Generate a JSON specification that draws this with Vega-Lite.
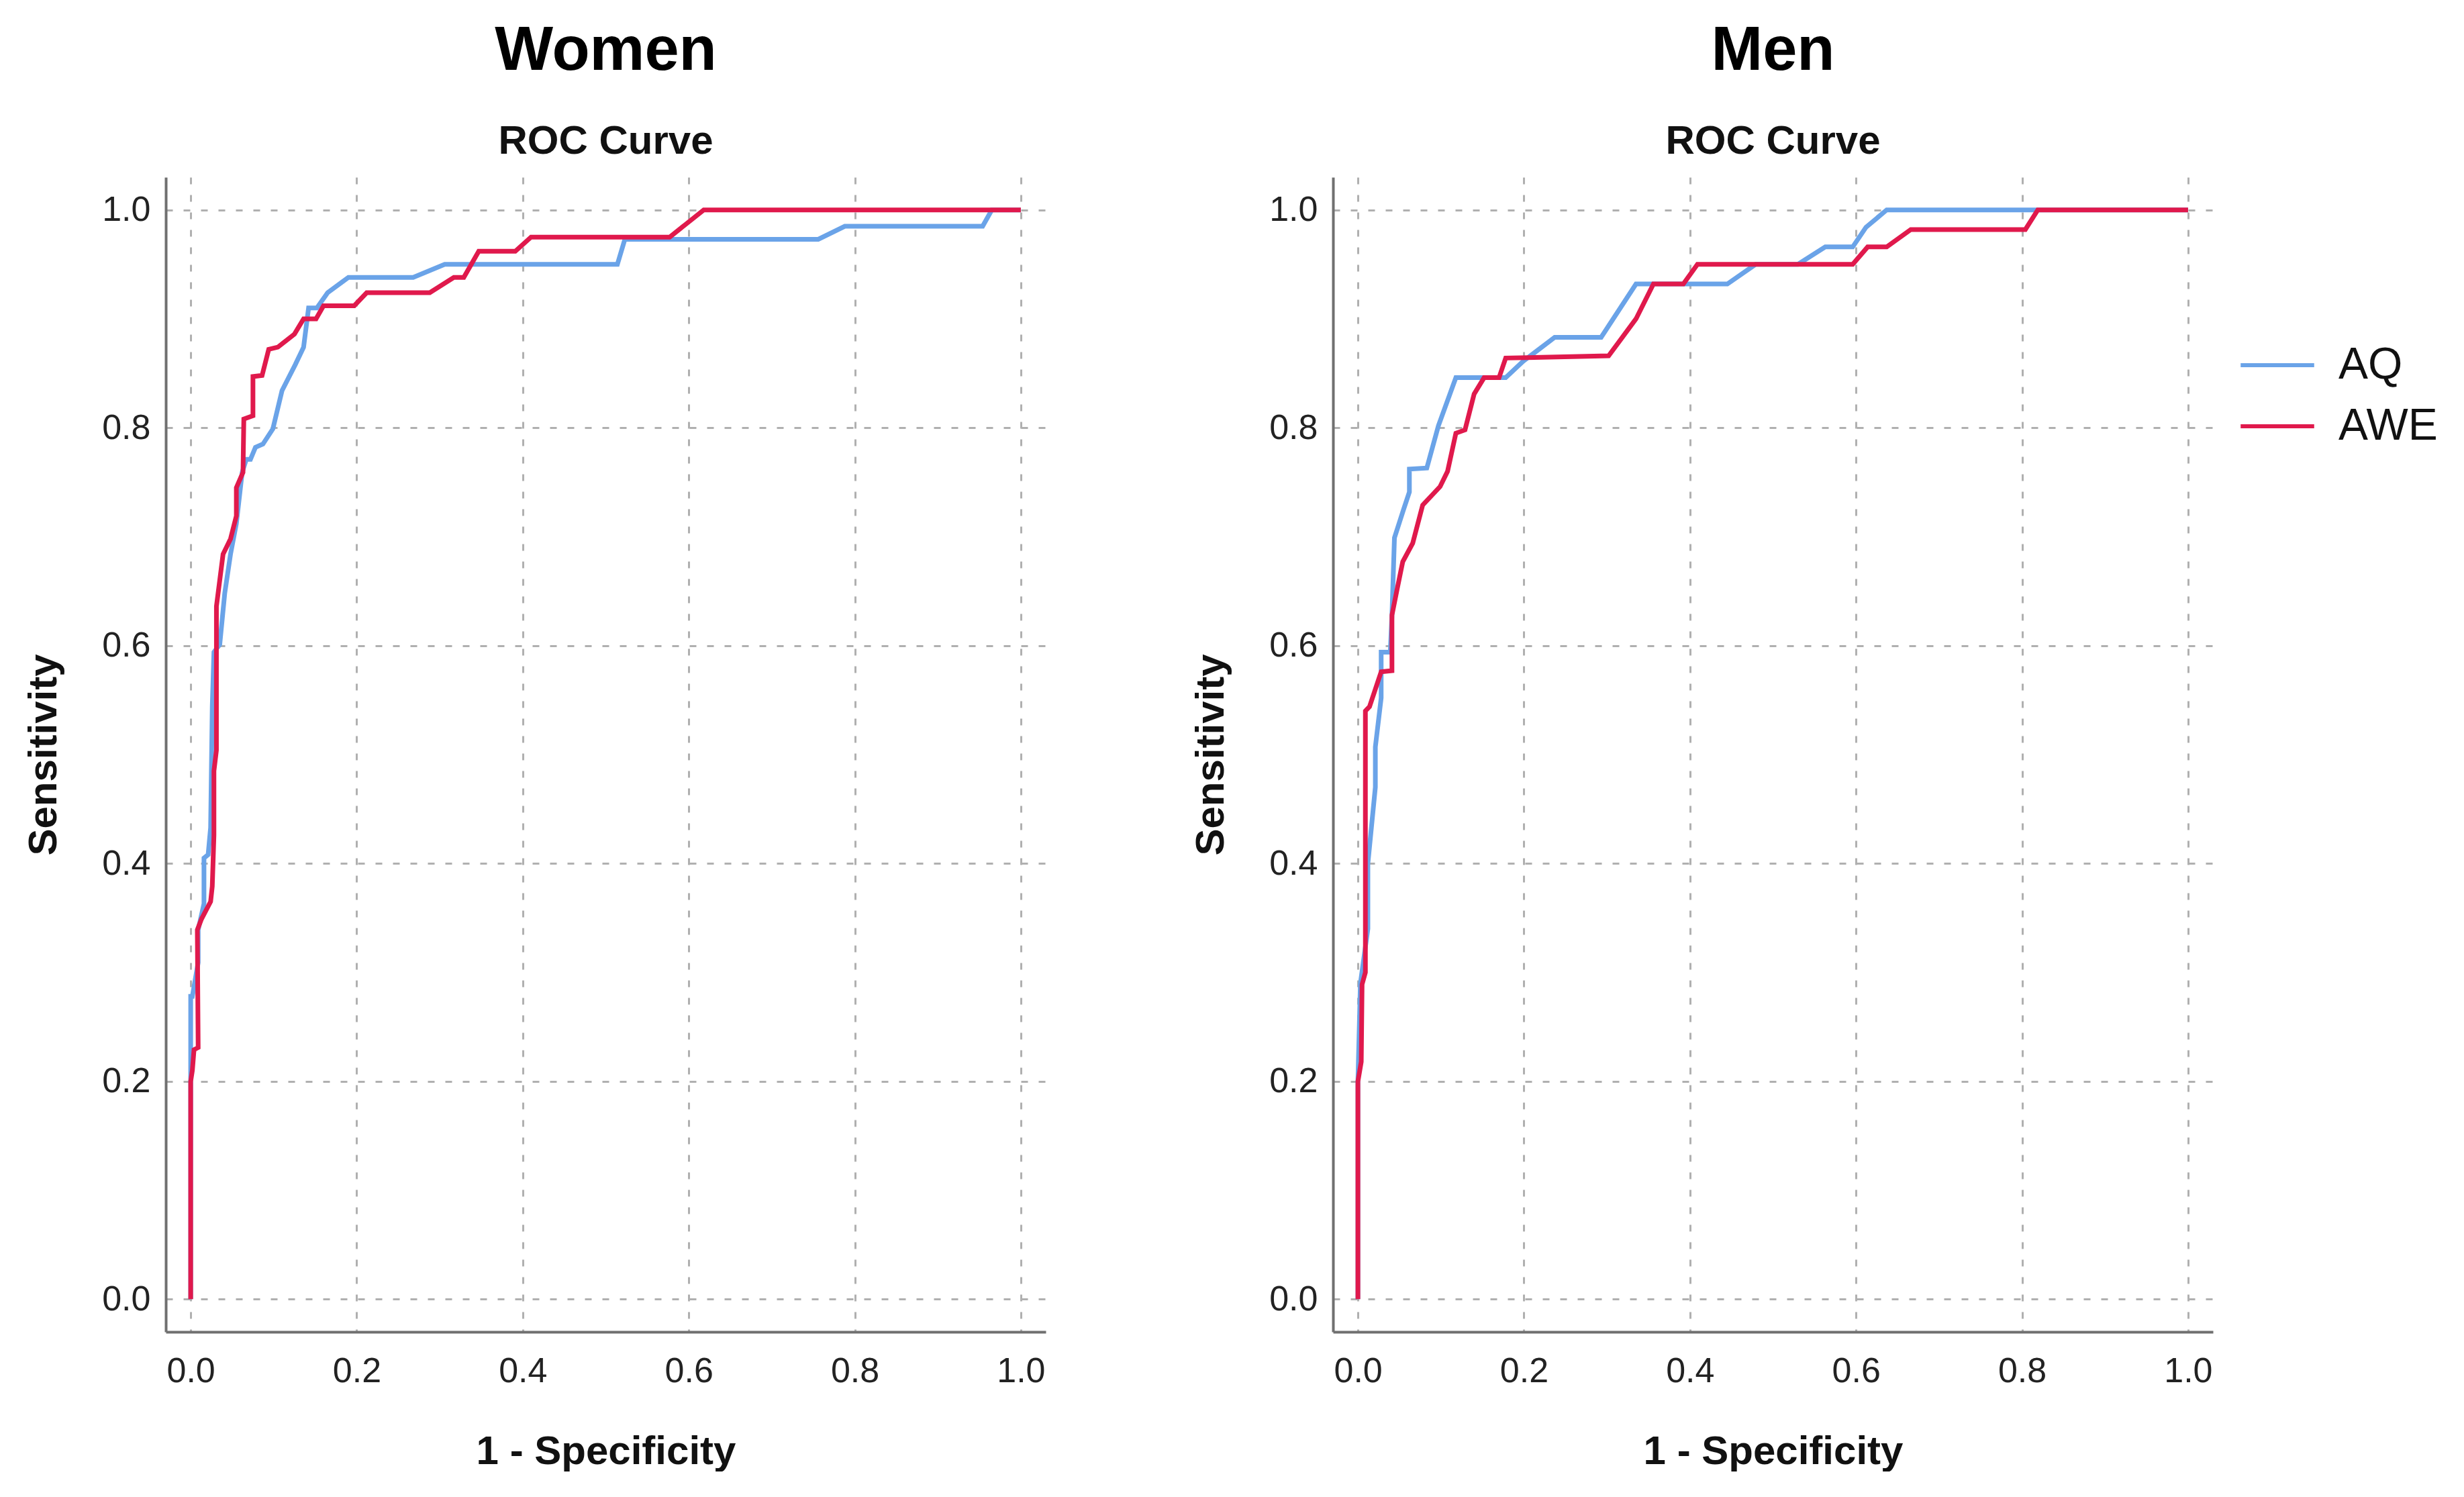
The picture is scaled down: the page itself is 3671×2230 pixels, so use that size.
{
  "$schema": "https://vega.github.io/schema/vega-lite/v6.json",
  "padding": {"left": 35, "top": 30, "right": 0, "bottom": 0},
  "background": "white",
  "config": {
    "font": "Liberation Sans",
    "view": {"stroke": null},
    "concat": {"spacing": 216},
    "axis": {
      "domainColor": "#707070",
      "domainWidth": 4,
      "ticks": false,
      "grid": true,
      "gridColor": "#b0b0b0",
      "gridDash": [10, 16],
      "gridWidth": 3,
      "labelFont": "Liberation Sans",
      "labelFontSize": 52,
      "labelColor": "#222222",
      "labelFlush": false,
      "labelOverlap": false,
      "titleFont": "Liberation Sans",
      "titleFontSize": 60,
      "titleFontWeight": "bold",
      "titleColor": "#111111"
    },
    "axisX": {"labelPadding": 33, "titlePadding": 65},
    "axisY": {"labelPadding": 23, "titlePadding": 55},
    "title": {
      "font": "Liberation Sans",
      "fontSize": 92,
      "fontWeight": "bold",
      "color": "#000000",
      "subtitleFont": "Liberation Sans",
      "subtitleFontSize": 60,
      "subtitleFontWeight": "bold",
      "subtitleColor": "#111111",
      "subtitlePadding": 59,
      "offset": 22,
      "anchor": "middle"
    },
    "legend": {
      "orient": "none",
      "legendX": 3088,
      "legendY": 222,
      "title": null,
      "labelFont": "Liberation Sans",
      "labelFontSize": 66,
      "labelColor": "#111111",
      "symbolType": "stroke",
      "symbolSize": 12000,
      "symbolStrokeWidth": 6,
      "labelOffset": 33,
      "rowPadding": -51
    }
  },
  "datasets": {
    "roc": [
      {"sex":"Women","test":"AQ","k":1,"fpr":0,"tpr":0},
      {"sex":"Women","test":"AQ","k":2,"fpr":0,"tpr":0.2},
      {"sex":"Women","test":"AQ","k":3,"fpr":0,"tpr":0.278},
      {"sex":"Women","test":"AQ","k":4,"fpr":0.002,"tpr":0.278},
      {"sex":"Women","test":"AQ","k":5,"fpr":0.009,"tpr":0.309},
      {"sex":"Women","test":"AQ","k":6,"fpr":0.009,"tpr":0.339},
      {"sex":"Women","test":"AQ","k":7,"fpr":0.016,"tpr":0.363},
      {"sex":"Women","test":"AQ","k":8,"fpr":0.016,"tpr":0.405},
      {"sex":"Women","test":"AQ","k":9,"fpr":0.021,"tpr":0.408},
      {"sex":"Women","test":"AQ","k":10,"fpr":0.024,"tpr":0.433},
      {"sex":"Women","test":"AQ","k":11,"fpr":0.026,"tpr":0.544},
      {"sex":"Women","test":"AQ","k":12,"fpr":0.028,"tpr":0.594},
      {"sex":"Women","test":"AQ","k":13,"fpr":0.035,"tpr":0.601},
      {"sex":"Women","test":"AQ","k":14,"fpr":0.041,"tpr":0.648},
      {"sex":"Women","test":"AQ","k":15,"fpr":0.048,"tpr":0.684},
      {"sex":"Women","test":"AQ","k":16,"fpr":0.055,"tpr":0.712},
      {"sex":"Women","test":"AQ","k":17,"fpr":0.062,"tpr":0.759},
      {"sex":"Women","test":"AQ","k":18,"fpr":0.067,"tpr":0.771},
      {"sex":"Women","test":"AQ","k":19,"fpr":0.072,"tpr":0.771},
      {"sex":"Women","test":"AQ","k":20,"fpr":0.078,"tpr":0.782},
      {"sex":"Women","test":"AQ","k":21,"fpr":0.087,"tpr":0.785},
      {"sex":"Women","test":"AQ","k":22,"fpr":0.099,"tpr":0.799},
      {"sex":"Women","test":"AQ","k":23,"fpr":0.110,"tpr":0.834},
      {"sex":"Women","test":"AQ","k":24,"fpr":0.126,"tpr":0.858},
      {"sex":"Women","test":"AQ","k":25,"fpr":0.136,"tpr":0.874},
      {"sex":"Women","test":"AQ","k":26,"fpr":0.142,"tpr":0.91},
      {"sex":"Women","test":"AQ","k":27,"fpr":0.152,"tpr":0.91},
      {"sex":"Women","test":"AQ","k":28,"fpr":0.165,"tpr":0.924},
      {"sex":"Women","test":"AQ","k":29,"fpr":0.19,"tpr":0.938},
      {"sex":"Women","test":"AQ","k":30,"fpr":0.268,"tpr":0.938},
      {"sex":"Women","test":"AQ","k":31,"fpr":0.306,"tpr":0.95},
      {"sex":"Women","test":"AQ","k":32,"fpr":0.514,"tpr":0.95},
      {"sex":"Women","test":"AQ","k":33,"fpr":0.523,"tpr":0.973},
      {"sex":"Women","test":"AQ","k":34,"fpr":0.756,"tpr":0.973},
      {"sex":"Women","test":"AQ","k":35,"fpr":0.788,"tpr":0.985},
      {"sex":"Women","test":"AQ","k":36,"fpr":0.954,"tpr":0.985},
      {"sex":"Women","test":"AQ","k":37,"fpr":0.965,"tpr":1.0},
      {"sex":"Women","test":"AQ","k":38,"fpr":1.0,"tpr":1.0},

      {"sex":"Women","test":"AWE","k":1,"fpr":0,"tpr":0},
      {"sex":"Women","test":"AWE","k":2,"fpr":0,"tpr":0.2},
      {"sex":"Women","test":"AWE","k":3,"fpr":0.002,"tpr":0.21},
      {"sex":"Women","test":"AWE","k":4,"fpr":0.004,"tpr":0.229},
      {"sex":"Women","test":"AWE","k":5,"fpr":0.009,"tpr":0.231},
      {"sex":"Women","test":"AWE","k":6,"fpr":0.008,"tpr":0.339},
      {"sex":"Women","test":"AWE","k":7,"fpr":0.013,"tpr":0.349},
      {"sex":"Women","test":"AWE","k":8,"fpr":0.024,"tpr":0.365},
      {"sex":"Women","test":"AWE","k":9,"fpr":0.026,"tpr":0.379},
      {"sex":"Women","test":"AWE","k":10,"fpr":0.028,"tpr":0.426},
      {"sex":"Women","test":"AWE","k":11,"fpr":0.028,"tpr":0.485},
      {"sex":"Women","test":"AWE","k":12,"fpr":0.031,"tpr":0.504},
      {"sex":"Women","test":"AWE","k":13,"fpr":0.031,"tpr":0.636},
      {"sex":"Women","test":"AWE","k":14,"fpr":0.039,"tpr":0.684},
      {"sex":"Women","test":"AWE","k":15,"fpr":0.048,"tpr":0.698},
      {"sex":"Women","test":"AWE","k":16,"fpr":0.055,"tpr":0.719},
      {"sex":"Women","test":"AWE","k":17,"fpr":0.055,"tpr":0.745},
      {"sex":"Women","test":"AWE","k":18,"fpr":0.063,"tpr":0.759},
      {"sex":"Women","test":"AWE","k":19,"fpr":0.064,"tpr":0.808},
      {"sex":"Women","test":"AWE","k":20,"fpr":0.075,"tpr":0.811},
      {"sex":"Women","test":"AWE","k":21,"fpr":0.075,"tpr":0.847},
      {"sex":"Women","test":"AWE","k":22,"fpr":0.086,"tpr":0.848},
      {"sex":"Women","test":"AWE","k":23,"fpr":0.094,"tpr":0.872},
      {"sex":"Women","test":"AWE","k":24,"fpr":0.105,"tpr":0.874},
      {"sex":"Women","test":"AWE","k":25,"fpr":0.125,"tpr":0.886},
      {"sex":"Women","test":"AWE","k":26,"fpr":0.136,"tpr":0.9},
      {"sex":"Women","test":"AWE","k":27,"fpr":0.151,"tpr":0.9},
      {"sex":"Women","test":"AWE","k":28,"fpr":0.16,"tpr":0.912},
      {"sex":"Women","test":"AWE","k":29,"fpr":0.197,"tpr":0.912},
      {"sex":"Women","test":"AWE","k":30,"fpr":0.212,"tpr":0.924},
      {"sex":"Women","test":"AWE","k":31,"fpr":0.288,"tpr":0.924},
      {"sex":"Women","test":"AWE","k":32,"fpr":0.317,"tpr":0.938},
      {"sex":"Women","test":"AWE","k":33,"fpr":0.329,"tpr":0.938},
      {"sex":"Women","test":"AWE","k":34,"fpr":0.347,"tpr":0.962},
      {"sex":"Women","test":"AWE","k":35,"fpr":0.391,"tpr":0.962},
      {"sex":"Women","test":"AWE","k":36,"fpr":0.41,"tpr":0.975},
      {"sex":"Women","test":"AWE","k":37,"fpr":0.577,"tpr":0.975},
      {"sex":"Women","test":"AWE","k":38,"fpr":0.618,"tpr":1.0},
      {"sex":"Women","test":"AWE","k":39,"fpr":1.0,"tpr":1.0},

      {"sex":"Men","test":"AQ","k":1,"fpr":0,"tpr":0},
      {"sex":"Men","test":"AQ","k":2,"fpr":0,"tpr":0.2},
      {"sex":"Men","test":"AQ","k":3,"fpr":0.003,"tpr":0.29},
      {"sex":"Men","test":"AQ","k":4,"fpr":0.012,"tpr":0.34},
      {"sex":"Men","test":"AQ","k":5,"fpr":0.012,"tpr":0.40},
      {"sex":"Men","test":"AQ","k":6,"fpr":0.021,"tpr":0.47},
      {"sex":"Men","test":"AQ","k":7,"fpr":0.021,"tpr":0.507},
      {"sex":"Men","test":"AQ","k":8,"fpr":0.028,"tpr":0.552},
      {"sex":"Men","test":"AQ","k":9,"fpr":0.028,"tpr":0.594},
      {"sex":"Men","test":"AQ","k":10,"fpr":0.039,"tpr":0.594},
      {"sex":"Men","test":"AQ","k":11,"fpr":0.041,"tpr":0.628},
      {"sex":"Men","test":"AQ","k":12,"fpr":0.044,"tpr":0.699},
      {"sex":"Men","test":"AQ","k":13,"fpr":0.055,"tpr":0.725},
      {"sex":"Men","test":"AQ","k":14,"fpr":0.062,"tpr":0.741},
      {"sex":"Men","test":"AQ","k":15,"fpr":0.062,"tpr":0.762},
      {"sex":"Men","test":"AQ","k":16,"fpr":0.083,"tpr":0.763},
      {"sex":"Men","test":"AQ","k":17,"fpr":0.097,"tpr":0.802},
      {"sex":"Men","test":"AQ","k":18,"fpr":0.118,"tpr":0.846},
      {"sex":"Men","test":"AQ","k":19,"fpr":0.178,"tpr":0.846},
      {"sex":"Men","test":"AQ","k":20,"fpr":0.199,"tpr":0.861},
      {"sex":"Men","test":"AQ","k":21,"fpr":0.237,"tpr":0.883},
      {"sex":"Men","test":"AQ","k":22,"fpr":0.293,"tpr":0.883},
      {"sex":"Men","test":"AQ","k":23,"fpr":0.335,"tpr":0.932},
      {"sex":"Men","test":"AQ","k":24,"fpr":0.445,"tpr":0.932},
      {"sex":"Men","test":"AQ","k":25,"fpr":0.479,"tpr":0.95},
      {"sex":"Men","test":"AQ","k":26,"fpr":0.53,"tpr":0.95},
      {"sex":"Men","test":"AQ","k":27,"fpr":0.563,"tpr":0.966},
      {"sex":"Men","test":"AQ","k":28,"fpr":0.596,"tpr":0.966},
      {"sex":"Men","test":"AQ","k":29,"fpr":0.612,"tpr":0.984},
      {"sex":"Men","test":"AQ","k":30,"fpr":0.637,"tpr":1.0},
      {"sex":"Men","test":"AQ","k":31,"fpr":1.0,"tpr":1.0},

      {"sex":"Men","test":"AWE","k":1,"fpr":0,"tpr":0},
      {"sex":"Men","test":"AWE","k":2,"fpr":0,"tpr":0.2},
      {"sex":"Men","test":"AWE","k":3,"fpr":0.004,"tpr":0.218},
      {"sex":"Men","test":"AWE","k":4,"fpr":0.005,"tpr":0.289},
      {"sex":"Men","test":"AWE","k":5,"fpr":0.009,"tpr":0.3},
      {"sex":"Men","test":"AWE","k":6,"fpr":0.009,"tpr":0.54},
      {"sex":"Men","test":"AWE","k":7,"fpr":0.014,"tpr":0.544},
      {"sex":"Men","test":"AWE","k":8,"fpr":0.028,"tpr":0.576},
      {"sex":"Men","test":"AWE","k":9,"fpr":0.041,"tpr":0.577},
      {"sex":"Men","test":"AWE","k":10,"fpr":0.041,"tpr":0.628},
      {"sex":"Men","test":"AWE","k":11,"fpr":0.047,"tpr":0.651},
      {"sex":"Men","test":"AWE","k":12,"fpr":0.054,"tpr":0.677},
      {"sex":"Men","test":"AWE","k":13,"fpr":0.066,"tpr":0.694},
      {"sex":"Men","test":"AWE","k":14,"fpr":0.078,"tpr":0.729},
      {"sex":"Men","test":"AWE","k":15,"fpr":0.099,"tpr":0.746},
      {"sex":"Men","test":"AWE","k":16,"fpr":0.108,"tpr":0.76},
      {"sex":"Men","test":"AWE","k":17,"fpr":0.118,"tpr":0.795},
      {"sex":"Men","test":"AWE","k":18,"fpr":0.129,"tpr":0.798},
      {"sex":"Men","test":"AWE","k":19,"fpr":0.14,"tpr":0.831},
      {"sex":"Men","test":"AWE","k":20,"fpr":0.152,"tpr":0.846},
      {"sex":"Men","test":"AWE","k":21,"fpr":0.17,"tpr":0.846},
      {"sex":"Men","test":"AWE","k":22,"fpr":0.178,"tpr":0.864},
      {"sex":"Men","test":"AWE","k":23,"fpr":0.302,"tpr":0.866},
      {"sex":"Men","test":"AWE","k":24,"fpr":0.335,"tpr":0.9},
      {"sex":"Men","test":"AWE","k":25,"fpr":0.356,"tpr":0.932},
      {"sex":"Men","test":"AWE","k":26,"fpr":0.392,"tpr":0.932},
      {"sex":"Men","test":"AWE","k":27,"fpr":0.409,"tpr":0.95},
      {"sex":"Men","test":"AWE","k":28,"fpr":0.596,"tpr":0.95},
      {"sex":"Men","test":"AWE","k":29,"fpr":0.614,"tpr":0.966},
      {"sex":"Men","test":"AWE","k":30,"fpr":0.637,"tpr":0.966},
      {"sex":"Men","test":"AWE","k":31,"fpr":0.666,"tpr":0.982},
      {"sex":"Men","test":"AWE","k":32,"fpr":0.804,"tpr":0.982},
      {"sex":"Men","test":"AWE","k":33,"fpr":0.819,"tpr":1.0},
      {"sex":"Men","test":"AWE","k":34,"fpr":1.0,"tpr":1.0}
    ]
  },
  "hconcat": [
    {
      "title": {"text": "Women", "subtitle": "ROC Curve"},
      "width": 1311,
      "height": 1720,
      "data": {"name": "roc"},
      "transform": [{"filter": "datum.sex === 'Women'"}],
      "mark": {"type": "line", "strokeWidth": 7, "interpolate": "linear"},
      "encoding": {
        "x": {"field": "fpr", "type": "quantitative", "title": "1 - Specificity",
              "scale": {"domain": [-0.03, 1.03], "nice": false, "zero": false},
              "axis": {"values": [0, 0.2, 0.4, 0.6, 0.8, 1.0], "format": ".1f"}},
        "y": {"field": "tpr", "type": "quantitative", "title": "Sensitivity",
              "scale": {"domain": [-0.03, 1.03], "nice": false, "zero": false},
              "axis": {"values": [0, 0.2, 0.4, 0.6, 0.8, 1.0], "format": ".1f"}},
        "color": {"field": "test", "type": "nominal",
                  "scale": {"domain": ["AQ", "AWE"], "range": ["#6aa3e8", "#e0194c"]}},
        "order": {"field": "k", "type": "quantitative"}
      }
    },
    {
      "title": {"text": "Men", "subtitle": "ROC Curve"},
      "width": 1311,
      "height": 1720,
      "data": {"name": "roc"},
      "transform": [{"filter": "datum.sex === 'Men'"}],
      "mark": {"type": "line", "strokeWidth": 7, "interpolate": "linear"},
      "encoding": {
        "x": {"field": "fpr", "type": "quantitative", "title": "1 - Specificity",
              "scale": {"domain": [-0.03, 1.03], "nice": false, "zero": false},
              "axis": {"values": [0, 0.2, 0.4, 0.6, 0.8, 1.0], "format": ".1f"}},
        "y": {"field": "tpr", "type": "quantitative", "title": "Sensitivity",
              "scale": {"domain": [-0.03, 1.03], "nice": false, "zero": false},
              "axis": {"values": [0, 0.2, 0.4, 0.6, 0.8, 1.0], "format": ".1f"}},
        "color": {"field": "test", "type": "nominal",
                  "scale": {"domain": ["AQ", "AWE"], "range": ["#6aa3e8", "#e0194c"]}},
        "order": {"field": "k", "type": "quantitative"}
      }
    }
  ],
  "resolve": {"scale": {"color": "shared", "x": "independent", "y": "independent"}}
}
